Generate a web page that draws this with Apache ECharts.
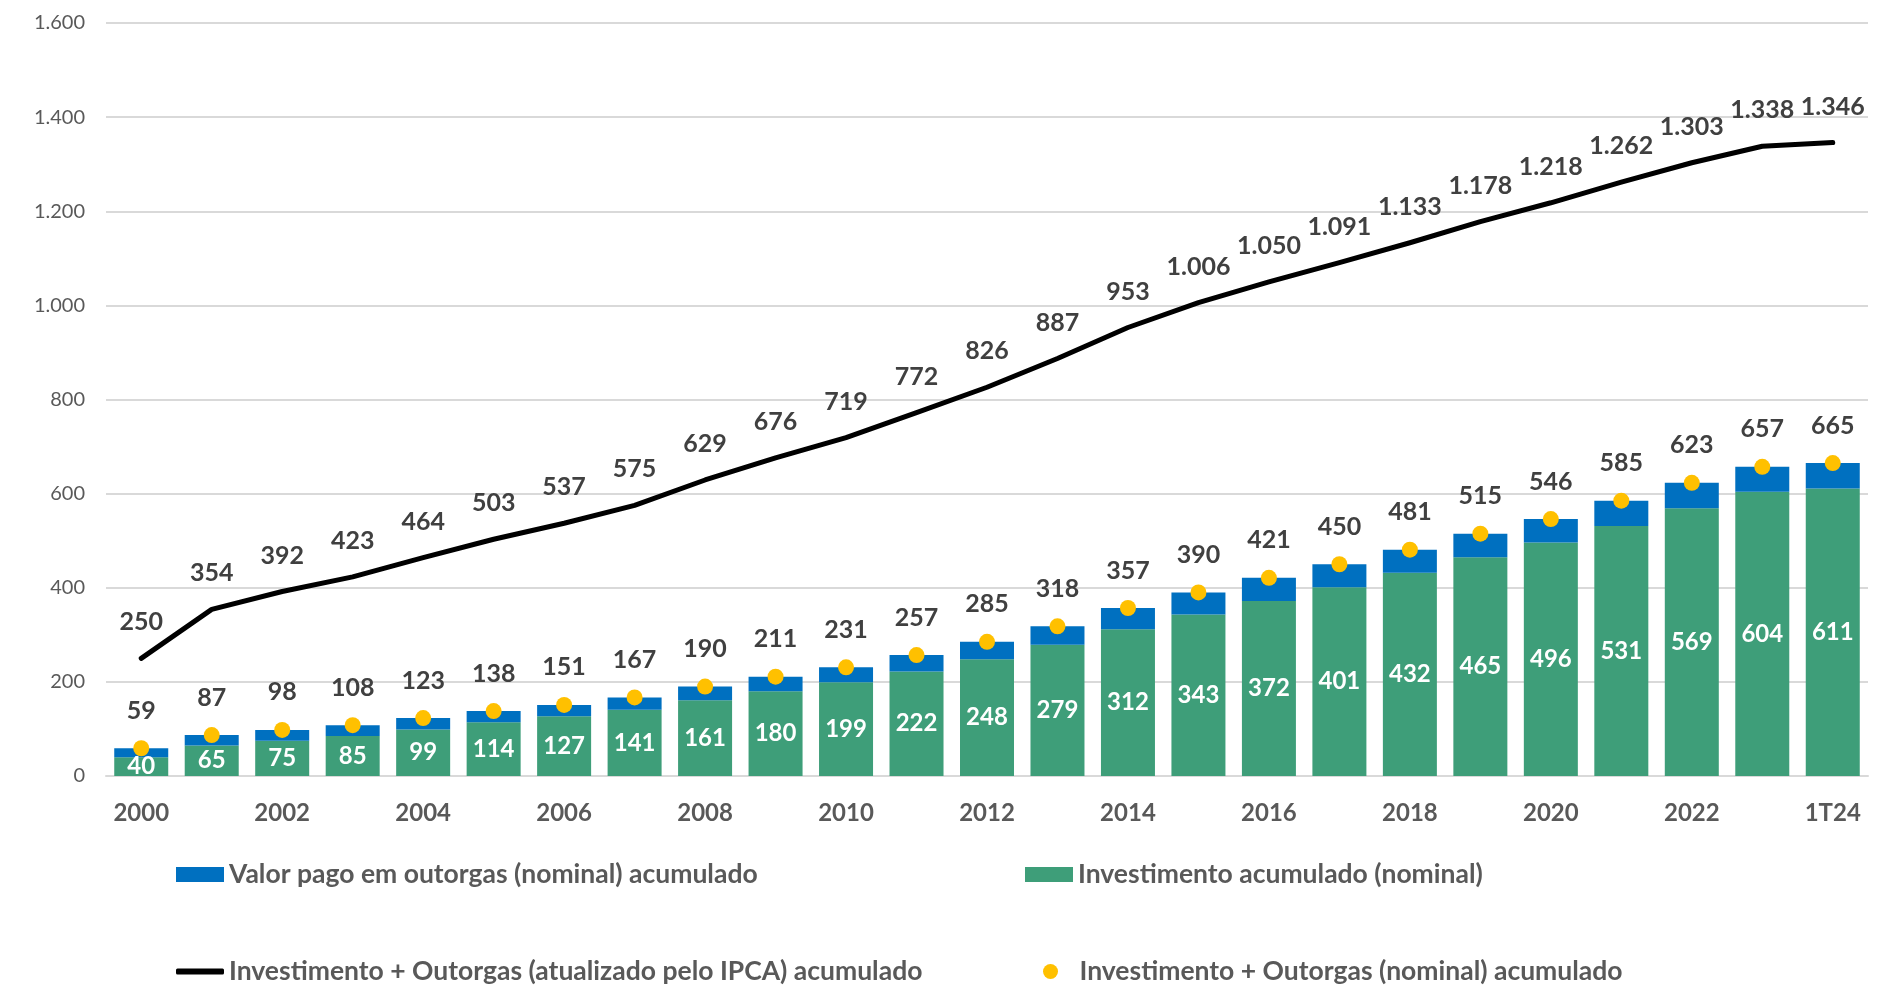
<!DOCTYPE html>
<html>
<head>
<meta charset="utf-8">
<script src="https://cdn.jsdelivr.net/npm/echarts@6/dist/echarts.min.js"></script>
<style>
  html, body { margin: 0; padding: 0; background: #fff; }
  #chart { width: 1895px; height: 986px; }
</style>
</head>
<body>
<div id="chart"></div>
<script>
// categorias e séries (R$ bilhões)
const categories = ['2000', '2001', '2002', '2003', '2004', '2005', '2006', '2007', '2008', '2009',
  '2010', '2011', '2012', '2013', '2014', '2015', '2016', '2017', '2018', '2019',
  '2020', '2021', '2022', '2023', '1T24']

const investimento = [40, 65, 75, 85, 99, 114, 127, 141, 161, 180, 199, 222, 248, 279, 312, 343,
  372, 401, 432, 465, 496, 531, 569, 604, 611]

const outorgas = [19, 22, 23, 23, 24, 24, 24, 26, 29, 31, 32, 35, 37, 39, 45, 47,
  49, 49, 49, 50, 50, 54, 54, 53, 54]

const totalNominal = [59, 87, 98, 108, 123, 138, 151, 167, 190, 211, 231, 257, 285, 318, 357, 390,
  421, 450, 481, 515, 546, 585, 623, 657, 665]

const totalIpca = [250, 354, 392, 423, 464, 503, 537, 575, 629, 676, 719, 772, 826, 887, 953, 1006,
  1050, 1091, 1133, 1178, 1218, 1262, 1303, 1338, 1346]

const yTicks = { min: 0, max: 1600, interval: 200 }

const FONT = 'Lato, "Open Sans", sans-serif'
const fmt = (v) => String(v).replace(/\B(?=(\d{3})+(?!\d))/g, '.')

const legendBase = {
  orient: 'horizontal',
  padding: 0,
  itemWidth: 48,
  itemHeight: 15,
  textStyle: { fontFamily: FONT, fontSize: 26.5, fontWeight: 'bold', color: '#595959' },
}

const chart = echarts.init(document.getElementById('chart'), null, { renderer: 'canvas' })

chart.setOption({
  animation: false,
  backgroundColor: '#fff',
  grid: { left: 106, right: 27, top: 23, bottom: 210, containLabel: false },
  legend: [
    { ...legendBase, left: 176, top: 861, data: [{ name: 'Valor pago em outorgas (nominal) acumulado', icon: 'rect' }] },
    { ...legendBase, left: 1025, top: 861, data: [{ name: 'Investimento acumulado (nominal)', icon: 'rect' }] },
    { ...legendBase, left: 176, top: 958, itemHeight: 6, data: [{ name: 'Investimento + Outorgas (atualizado pelo IPCA) acumulado', icon: 'roundRect' }] },
    // o ícone circular encolhe a largura do item, por isso o deslocamento
    { ...legendBase, left: 1043, top: 958, data: [{ name: 'Investimento + Outorgas (nominal) acumulado', icon: 'circle' }] },
  ],
  xAxis: {
    type: 'category',
    data: categories,
    axisTick: { show: false },
    axisLine: { lineStyle: { color: '#d9d9d9', width: 2 } },
    axisLabel: {
      interval: 1,
      margin: 25,
      fontFamily: FONT,
      fontSize: 24,
      fontWeight: 'bold',
      color: '#595959',
    },
  },
  yAxis: {
    type: 'value',
    min: yTicks.min,
    max: yTicks.max,
    interval: yTicks.interval,
    axisLine: { show: false },
    axisTick: { show: false },
    splitLine: { lineStyle: { color: '#d9d9d9', width: 2 } },
    axisLabel: {
      margin: 21,
      fontFamily: FONT,
      fontSize: 20,
      color: '#595959',
      formatter: (v) => fmt(v),
    },
  },
  series: [
    {
      name: 'Investimento acumulado (nominal)',
      type: 'bar',
      stack: 'total',
      barWidth: 54,
      data: investimento,
      itemStyle: { color: '#3e9e79' },
      label: {
        show: true,
        position: 'inside',
        fontFamily: FONT,
        fontSize: 24,
        fontWeight: 'bold',
        color: '#fff',
      },
    },
    {
      name: 'Valor pago em outorgas (nominal) acumulado',
      type: 'bar',
      stack: 'total',
      barWidth: 54,
      data: outorgas,
      itemStyle: { color: '#0070c0' },
    },
    {
      name: 'Investimento + Outorgas (atualizado pelo IPCA) acumulado',
      type: 'line',
      data: totalIpca,
      symbol: 'circle',
      symbolSize: 1,
      showSymbol: true,
      itemStyle: { color: '#000' },
      lineStyle: { color: '#000', width: 5, cap: 'round', join: 'round' },
      label: {
        show: true,
        position: 'top',
        distance: 23,
        fontFamily: FONT,
        fontSize: 25,
        fontWeight: 'bold',
        color: '#404040',
        formatter: (p) => fmt(p.value),
      },
      z: 3,
    },
    {
      name: 'Investimento + Outorgas (nominal) acumulado',
      type: 'scatter',
      data: totalNominal,
      symbol: 'circle',
      symbolSize: 16,
      itemStyle: { color: '#ffc000', opacity: 1 },
      label: {
        show: true,
        position: 'top',
        distance: 17,
        fontFamily: FONT,
        fontSize: 25,
        fontWeight: 'bold',
        color: '#404040',
        opacity: 1,
        formatter: (p) => fmt(p.value),
      },
      z: 4,
    },
  ],
})

window.addEventListener('resize', () => chart.resize())
</script>
</body>
</html>
